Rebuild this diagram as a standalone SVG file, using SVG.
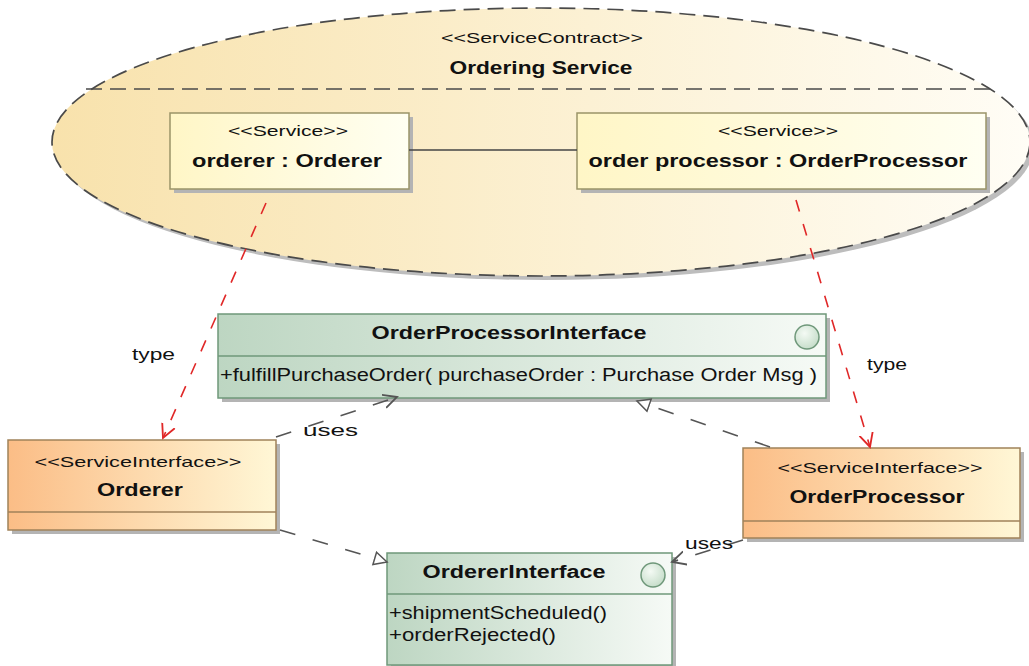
<svg xmlns="http://www.w3.org/2000/svg" width="1029" height="666" viewBox="0 0 1029 666">
<defs>
<linearGradient id="gEll" x1="0" y1="0" x2="1" y2="0">
<stop offset="0" stop-color="#f8e2ac"/><stop offset="0.55" stop-color="#fcf1d4"/><stop offset="1" stop-color="#fffdf6"/>
</linearGradient>
<linearGradient id="gSvc" x1="0" y1="0" x2="1" y2="0">
<stop offset="0" stop-color="#fff6c6"/><stop offset="1" stop-color="#fffff2"/>
</linearGradient>
<linearGradient id="gGreen" x1="0" y1="0" x2="1" y2="0">
<stop offset="0" stop-color="#bdd6c2"/><stop offset="1" stop-color="#f6faf6"/>
</linearGradient>
<linearGradient id="gOrange" x1="0" y1="0" x2="1" y2="0">
<stop offset="0" stop-color="#fbbd86"/><stop offset="1" stop-color="#fff7d6"/>
</linearGradient>
<radialGradient id="gCirc" cx="0.4" cy="0.35" r="0.7">
<stop offset="0" stop-color="#f4faf4"/><stop offset="1" stop-color="#c4dcc8"/>
</radialGradient>
<marker id="openRed" markerUnits="userSpaceOnUse" markerWidth="16" markerHeight="16" refX="12" refY="6" orient="auto" viewBox="0 0 14 12">
<path d="M0,0 L12,6 L0,12" fill="none" stroke="#e02828" stroke-width="1.6"/>
</marker>
<marker id="openGray" markerUnits="userSpaceOnUse" markerWidth="16" markerHeight="16" refX="12" refY="6" orient="auto" viewBox="0 0 14 12">
<path d="M0,0 L12,6 L0,12" fill="none" stroke="#555" stroke-width="1.6"/>
</marker>
<marker id="tri" markerUnits="userSpaceOnUse" markerWidth="16" markerHeight="16" refX="13" refY="6" orient="auto" viewBox="0 0 15 12">
<path d="M1,0 L13,6 L1,12 Z" fill="#fff" stroke="#555" stroke-width="1.4"/>
</marker>
</defs>
<style>
text{font-family:"Liberation Sans",Arial,sans-serif;fill:#111;}
.st{font-size:15px;}
.b{font-weight:bold;font-size:18px;}
.n{font-size:18px;}
.lbl{font-size:17px;}
.svc{fill:url(#gSvc);stroke:#9a9468;stroke-width:1.5;}
.grn{fill:url(#gGreen);stroke:#6f987a;stroke-width:1.5;}
.org{fill:url(#gOrange);stroke:#a0825a;stroke-width:1.5;}
.sh{fill:#b4b4b4;}
.div{stroke-width:1.5;}
.red{stroke:#e02828;stroke-width:1.6;stroke-dasharray:12 13;fill:none;}
.gry{stroke:#555;stroke-width:1.6;stroke-dasharray:16 18;fill:none;}
</style>

<g id="contract">
<ellipse cx="545" cy="146" rx="489" ry="134" fill="#bdbdbd"/>
<ellipse cx="541" cy="142" rx="489" ry="134" fill="url(#gEll)" stroke="#4a4a4a" stroke-width="1.7" stroke-dasharray="16 8"/>
<line x1="86" y1="89" x2="996" y2="89" stroke="#4a4a4a" stroke-width="1.7" stroke-dasharray="16 8"/>
<text class="st" x="542" y="43" text-anchor="middle" textLength="202" lengthAdjust="spacingAndGlyphs">&lt;&lt;ServiceContract&gt;&gt;</text>
<text class="b" x="541" y="74" text-anchor="middle" textLength="183" lengthAdjust="spacingAndGlyphs">Ordering Service</text>
</g>

<g id="svc-orderer">
<rect class="sh" x="174" y="117" width="239" height="76"/>
<rect class="svc" x="170" y="113" width="239" height="76"/>
<text class="st" x="288" y="136" text-anchor="middle" textLength="120" lengthAdjust="spacingAndGlyphs">&lt;&lt;Service&gt;&gt;</text>
<text class="b" x="287" y="167" text-anchor="middle" textLength="190" lengthAdjust="spacingAndGlyphs">orderer : Orderer</text>
</g>

<g id="svc-processor">
<rect class="sh" x="581" y="117" width="409" height="76"/>
<rect class="svc" x="577" y="113" width="409" height="76"/>
<text class="st" x="778" y="136" text-anchor="middle" textLength="120" lengthAdjust="spacingAndGlyphs">&lt;&lt;Service&gt;&gt;</text>
<text class="b" x="778" y="167" text-anchor="middle" textLength="379" lengthAdjust="spacingAndGlyphs">order processor : OrderProcessor</text>
</g>

<g id="opi">
<rect class="sh" x="222" y="318" width="608" height="84"/>
<rect class="grn" x="218" y="314" width="608" height="84"/>
<line class="div" x1="218" y1="356" x2="826" y2="356" stroke="#6f987a"/>
<circle cx="807" cy="337" r="12" fill="url(#gCirc)" stroke="#6f987a" stroke-width="1.5"/>
<text class="b" x="509" y="339" text-anchor="middle" textLength="275" lengthAdjust="spacingAndGlyphs">OrderProcessorInterface</text>
<text class="n" x="220" y="381" textLength="597" lengthAdjust="spacingAndGlyphs">+fulfillPurchaseOrder( purchaseOrder : Purchase Order Msg )</text>
</g>

<g id="si-orderer">
<rect class="sh" x="12" y="444" width="268" height="90"/>
<rect class="org" x="8" y="440" width="268" height="90"/>
<line class="div" x1="8" y1="512" x2="276" y2="512" stroke="#a0825a"/>
<text class="st" x="138" y="467" text-anchor="middle" textLength="207" lengthAdjust="spacingAndGlyphs">&lt;&lt;ServiceInterface&gt;&gt;</text>
<text class="b" x="140" y="496" text-anchor="middle" textLength="86" lengthAdjust="spacingAndGlyphs">Orderer</text>
</g>

<g id="si-processor">
<rect class="sh" x="747" y="452" width="277" height="90"/>
<rect class="org" x="743" y="448" width="277" height="90"/>
<line class="div" x1="743" y1="521" x2="1020" y2="521" stroke="#a0825a"/>
<text class="st" x="880" y="473" text-anchor="middle" textLength="205" lengthAdjust="spacingAndGlyphs">&lt;&lt;ServiceInterface&gt;&gt;</text>
<text class="b" x="877" y="503" text-anchor="middle" textLength="175" lengthAdjust="spacingAndGlyphs">OrderProcessor</text>
</g>

<g id="oi">
<rect class="sh" x="391" y="557" width="285" height="112"/>
<rect class="grn" x="387" y="553" width="285" height="112"/>
<line class="div" x1="387" y1="594" x2="672" y2="594" stroke="#6f987a"/>
<circle cx="653" cy="575" r="12" fill="url(#gCirc)" stroke="#6f987a" stroke-width="1.5"/>
<text class="b" x="514" y="578" text-anchor="middle" textLength="183" lengthAdjust="spacingAndGlyphs">OrdererInterface</text>
<text class="n" x="389" y="619" textLength="218" lengthAdjust="spacingAndGlyphs">+shipmentScheduled()</text>
<text class="n" x="389" y="641" textLength="167" lengthAdjust="spacingAndGlyphs">+orderRejected()</text>
</g>

<g id="connectors">
<line x1="409" y1="150" x2="577" y2="150" stroke="#444" stroke-width="1.5"/>
<line class="red" x1="266" y1="203" x2="163" y2="438" marker-end="url(#openRed)"/>
<line class="red" x1="796" y1="200" x2="870" y2="447" marker-end="url(#openRed)"/>
<line class="gry" x1="276" y1="437" x2="397" y2="397" marker-end="url(#openGray)"/>
<line class="gry" x1="770" y1="447" x2="637" y2="401" marker-end="url(#tri)"/>
<line class="gry" x1="280" y1="530" x2="387" y2="562" marker-end="url(#tri)"/>
<line class="gry" x1="743" y1="540" x2="672" y2="562" marker-end="url(#openGray)"/>
<text class="lbl" x="132" y="360" textLength="43" lengthAdjust="spacingAndGlyphs">type</text>
<text class="lbl" x="867" y="370" textLength="40" lengthAdjust="spacingAndGlyphs">type</text>
<text class="lbl" x="303" y="436" textLength="55" lengthAdjust="spacingAndGlyphs">uses</text>
<text class="lbl" x="685" y="549" textLength="48" lengthAdjust="spacingAndGlyphs">uses</text>
</g>
</svg>
